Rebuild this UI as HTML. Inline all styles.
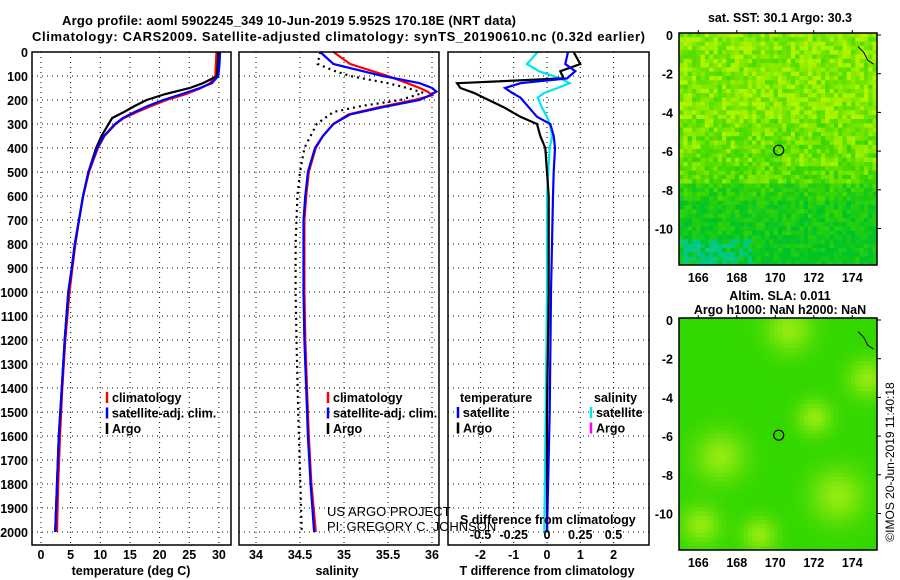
<!DOCTYPE html>
<html><head><meta charset="utf-8">
<style>
body{margin:0;background:#fff;}
svg{display:block;font-family:"Liberation Sans",sans-serif;}
.b{font-weight:bold;font-size:13px;}
.t{font-weight:bold;font-size:12.5px;}
</style></head>
<body>
<svg id="chart" width="900" height="580" viewBox="0 0 900 580" xmlns="http://www.w3.org/2000/svg">
<defs>
<clipPath id="c1"><rect x="679" y="33" width="198" height="232"/></clipPath>
<clipPath id="c2"><rect x="679" y="318" width="198" height="232"/></clipPath>
</defs>
<text class="b" x="62" y="25" text-anchor="start" font-size="14" textLength="454">Argo profile: aoml 5902245_349 10-Jun-2019 5.952S 170.18E (NRT data)</text>
<text class="b" x="32" y="41" text-anchor="start" font-size="14" textLength="613">Climatology: CARS2009. Satellite-adjusted climatology: synTS_20190610.nc (0.32d earlier)</text>
<g id="g"></g>
</svg>
<script>
// ---- data ----
const tDepth = [0,50,100,130,150,175,200,225,250,275,300,350,400,500,600,700,800,900,1000,1200,1400,1600,1800,2000];
const tClim  = [29.6,29.5,29.4,28.5,27.0,24.5,21.2,18.6,16.2,14.0,12.6,10.7,9.6,8.1,7.1,6.4,5.8,5.3,4.8,4.1,3.6,3.2,2.9,2.7];
const tSat   = [30.2,30.1,29.9,28.8,26.8,23.8,20.6,18.0,15.8,13.8,12.5,10.6,9.5,8.0,7.1,6.4,5.7,5.2,4.6,4.0,3.5,3.0,2.7,2.4];
const tArgo  = [29.9,29.8,29.7,27.3,25.1,21.0,17.8,15.8,14.0,12.0,11.4,10.2,9.3,8.0,7.1,6.4,5.7,5.2,4.6,4.0,3.5,3.0,2.7,2.4];
const sDepth = [0,50,100,130,150,165,180,200,230,260,300,350,400,500,600,700,800,1000,1200,1400,1600,1800,2000];
const sClim  = [34.88,35.07,35.5,35.72,35.86,35.95,36.0,35.8,35.4,35.05,34.88,34.76,34.68,34.6,34.57,34.55,34.55,34.55,34.56,34.58,34.6,34.63,34.68];
const sSat   = [34.73,34.88,35.44,35.86,36.0,36.05,35.98,35.86,35.44,35.07,34.88,34.76,34.67,34.59,34.56,34.54,34.54,34.54,34.55,34.57,34.59,34.62,34.66];
const sArgoDepth = [0,50,80,100,130,150,170,200,225,250,300,400,500,600,800,1000,1200,1500,2000];
const sArgo  = [34.73,34.7,34.9,35.07,35.5,35.72,35.9,35.64,35.2,34.88,34.69,34.55,34.5,34.47,34.45,34.45,34.46,34.48,34.52];
const dDepth = [0,50,80,110,130,150,170,190,230,270,300,350,400,500,600,800,1000,1500,2000];
const dTArgo = [0.8,1.0,0.4,0.5,-2.7,-2.6,-2.2,-1.9,-1.3,-0.8,-0.3,-0.2,-0.05,0.0,0.05,0.05,0.05,0.0,0.0];
const dTSat  = [0.63,0.55,0.85,0.6,-0.8,-1.26,-1.05,-0.8,-0.55,-0.3,0.1,0.2,0.24,0.2,0.18,0.15,0.12,0.08,0.0];
const dSSat  = [-0.07,-0.15,-0.06,0.1,0.17,0.08,-0.02,-0.07,-0.04,0.0,0.02,0.04,0.02,0.01,0.0,0.0,0.0,-0.01,-0.02];
const depthTicks = [0,100,200,300,400,500,600,700,800,900,1000,1100,1200,1300,1400,1500,1600,1700,1800,1900,2000];
const tTicks = [0,5,10,15,20,25,30];
const sTicks = [34,34.5,35,35.5,36];
const sTickLabels = ["34","34.5","35","35.5","36"];
const dTTicks = [-2,-1,0,1,2];
const dSTicks = [-0.5,-0.25,0,0.25,0.5];
const lonTicks = [166,168,170,172,174];
const latTicks = [0,-2,-4,-6,-8,-10];
const sstBand = [0.85,0.82,0.8,0.82,0.85,0.75,0.72,0.7,0.6,0.35,0.2,0.15,0.1,0.05];
const slaBlobs = [[170.5,-0.5,1.2],[167,-7,1.3],[173,-9,1.4],[171.8,-5,0.9],[166,-10.5,1.0],[169,-11,0.9],[174.5,-3,1]];
const argoLon = 170.18, argoLat = -5.952;

// ---- helpers ----
const NS="http://www.w3.org/2000/svg", G=document.getElementById('g');
function mk(tag,attrs,parent){const e=document.createElementNS(NS,tag);for(const k in attrs)e.setAttribute(k,attrs[k]);(parent||G).appendChild(e);return e;}
function txt(x,y,s,cls,anchor,name){const e=mk('text',{x:x,y:y,'class':cls||'t','text-anchor':anchor||'middle'});e.textContent=s;


return e;}
const yD = d => 52 + d*0.24;
const PB = 545;
const xT = v => 41 + v*5.93;
const xS = v => 256 + (v-34)*88;
const xDT = v => 547 + v*33.3;
const xDS = v => 547 + v*133;
function frame(x0,x1,name){const r=mk('rect',{x:x0,y:52,width:x1-x0,height:PB-52,fill:'none',stroke:'#000','stroke-width':1.5});

}
function hgrid(x0,x1){depthTicks.forEach(d=>{if(d>0){const l=mk('line',{x1:x0,x2:x1,y1:yD(d),y2:yD(d),stroke:'#000','stroke-dasharray':'1,4'});

}});}
function vgrid(xs){xs.forEach(x=>{const l=mk('line',{x1:x,x2:x,y1:52,y2:PB,stroke:'#000','stroke-dasharray':'1,4'});

});}
function series(ds,vs,fx,color,name,dash,w){const p=ds.map((d,i)=>fx(vs[i]).toFixed(1)+','+yD(d).toFixed(1)).join(' ');
const e=mk('polyline',{points:p,fill:'none',stroke:color,'stroke-width':w||2.2});if(dash){e.setAttribute('stroke-dasharray',dash);}

}
function legend(x,y,items){items.forEach((it,i)=>{const yy=y+i*15.5;
const l=mk('line',{x1:x,x2:x,y1:yy-10,y2:yy+1,stroke:it[1],'stroke-width':2.5});


txt(x+5,yy,it[0],'t','start','legend-entry');});}

// ---- panel 1 temperature ----
vgrid(tTicks.map(xT)); hgrid(32,231);
series(tDepth,tClim,xT,'#ff0000','temperature-climatology-line');
series(tDepth,tArgo,xT,'#000000','temperature-argo-line');
series(tDepth,tSat,xT,'#0000ff','temperature-satellite-line');
frame(32,231,'temperature-panel');
depthTicks.forEach(d=>txt(28,yD(d)+5,String(d),'t','end','depth-tick-label'));
tTicks.forEach(v=>txt(xT(v),559,String(v),'t','middle','temperature-tick-label'));
txt(131,575,'temperature (deg C)','t','middle','temperature-axis-title');
legend(107,402,[['climatology','#ff0000'],['satellite-adj. clim.','#0000ff'],['Argo','#000']]);

// ---- panel 2 salinity ----
vgrid(sTicks.map(xS)); hgrid(239,439);
series(sArgoDepth,sArgo,xS,'#000','salinity-argo-line','2,4',2.2);
series(sDepth,sClim,xS,'#ff0000','salinity-climatology-line');
series(sDepth,sSat,xS,'#0000ff','salinity-satellite-line');
frame(239,439,'salinity-panel');
sTicks.forEach((v,i)=>txt(xS(v),559,sTickLabels[i],'t','middle','salinity-tick-label'));
txt(337,575,'salinity','t','middle','salinity-axis-title');
legend(328,402,[['climatology','#ff0000'],['satellite-adj. clim.','#0000ff'],['Argo','#000']]);
txt(327,516,'US ARGO PROJECT','n','start','credit-project').setAttribute('style','font-size:13px;font-weight:normal');
txt(327,531,'PI: GREGORY C. JOHNSON','n','start','credit-pi').setAttribute('style','font-size:13px;font-weight:normal');

// ---- panel 3 differences ----
vgrid(dTTicks.map(xDT)); hgrid(448,649);
series(dDepth,dSSat,xDS,'#00e5ee','salinity-diff-satellite-line');
series(dDepth,dTArgo,xDT,'#000','temperature-diff-argo-line');
series(dDepth,dTSat,xDT,'#0000ff','temperature-diff-satellite-line');
frame(448,649,'difference-panel');
dTTicks.forEach(v=>txt(xDT(v),559,String(v),'t','middle','t-diff-tick-label'));
txt(547,575,'T difference from climatology','t','middle','t-diff-axis-title');
txt(460,524,'S difference from climatology','t','start','s-diff-axis-title');
dSTicks.forEach(v=>txt(xDS(v),539,String(v),'t','middle','s-diff-tick-label'));
txt(460,402,'temperature','t','start','legend-title-temperature');
txt(594,402,'salinity','t','start','legend-title-salinity');
legend(458,417,[['satellite','#0000ff'],['Argo','#000']]);
legend(591,417,[['satellite','#00e5ee'],['Argo','#ff00ff']]);

// ---- maps ----
const MX0=679,MX1=877,lonX=v=>MX0+(v-165)*19.25;
function hash(i,j){let h=(i*374761393+j*668265263)>>>0;h=(h^(h>>>13))*1274126177>>>0;return ((h^(h>>>16))>>>0)/4294967295;}
function mix(a,b,t){return a.map((v,k)=>Math.round(v+(b[k]-v)*t));}
function map(top,name,clip,colorFn){
  const latY=v=>top+2-v*19.35, bottom=top+232;
  const g=mk('g',{'clip-path':'url(#'+clip+')'});
  
  
  const cw=4.3,nx=Math.ceil((MX1-MX0)/cw),ny=Math.ceil((bottom-top)/cw);
  for(let j=0;j<ny;j++)for(let i=0;i<nx;i++){
    const c=colorFn(i/nx,j/ny,i,j);
    mk('rect',{x:(MX0+i*cw).toFixed(1),y:(top+j*cw).toFixed(1),width:cw+0.4,height:cw+0.4,fill:'rgb('+c.join(',')+')'},g);
  }
  const r=mk('rect',{x:MX0,y:top,width:MX1-MX0,height:bottom-top,fill:'none',stroke:'#000','stroke-width':1.5});
  
  
  latTicks.forEach(v=>{txt(673,latY(v)+5,String(v),'t','end','latitude-tick-label');
    mk('line',{x1:MX1,x2:MX1+4,y1:latY(v),y2:latY(v),stroke:'#000'});});
  lonTicks.forEach(v=>{txt(lonX(v),bottom+17,String(v),'t','middle','longitude-tick-label');
    mk('line',{x1:lonX(v),x2:lonX(v),y1:top-3,y2:top,stroke:'#000'});});
  const c=mk('circle',{cx:lonX(argoLon),cy:latY(argoLat),r:5,fill:'none',stroke:'#000','stroke-width':1.2});
  
  
  mk('polyline',{points:[[174.3,-0.6],[174.6,-0.9],[174.8,-1.3],[175.1,-1.5]].map(p=>lonX(p[0])+','+latY(p[1])).join(' '),fill:'none',stroke:'#000'});
}
const YEL=[175,245,0],GRN=[60,215,0],DGR=[0,195,40],TEAL=[0,200,170];
map(33,'sst-map','c1',(fx,fy,i,j)=>{
  const b=sstBand[Math.min(sstBand.length-1,Math.floor(fy*sstBand.length))];
  const n=hash(i,j);let t=Math.max(0,Math.min(1,b+(n-0.5)*0.5));
  let c=t>0.5?mix(GRN,YEL,(t-0.5)*2):mix(DGR,GRN,t*2);
  if(fy>0.88&&fx<0.35&&hash(j,i)<0.6)c=mix(c,TEAL,0.7);
  return c;});
map(318,'sla-map','c2',(fx,fy,i,j)=>{
  const lon=165+fx*10.3,lat=-fy*11.9;let s=0;
  slaBlobs.forEach(bl=>{const d=((lon-bl[0])**2+(lat-bl[1])**2)/(bl[2]*bl[2]);s+=Math.exp(-d);});
  return mix([50,215,0],[170,240,20],Math.min(1,s*0.8));});
txt(780,22,'sat. SST: 30.1 Argo: 30.3','t','middle','sst-map-title');
txt(780,300,'Altim. SLA: 0.011','t','middle','sla-map-title');
txt(780,314,'Argo h1000: NaN h2000: NaN','t','middle','sla-map-subtitle');
const cr=txt(0,0,'©IMOS 20-Jun-2019 11:40:18','n','middle','imos-credit');
cr.setAttribute('style','font-size:12px');
cr.setAttribute('transform','translate(894,462) rotate(-90)');
</script>
</body></html>
